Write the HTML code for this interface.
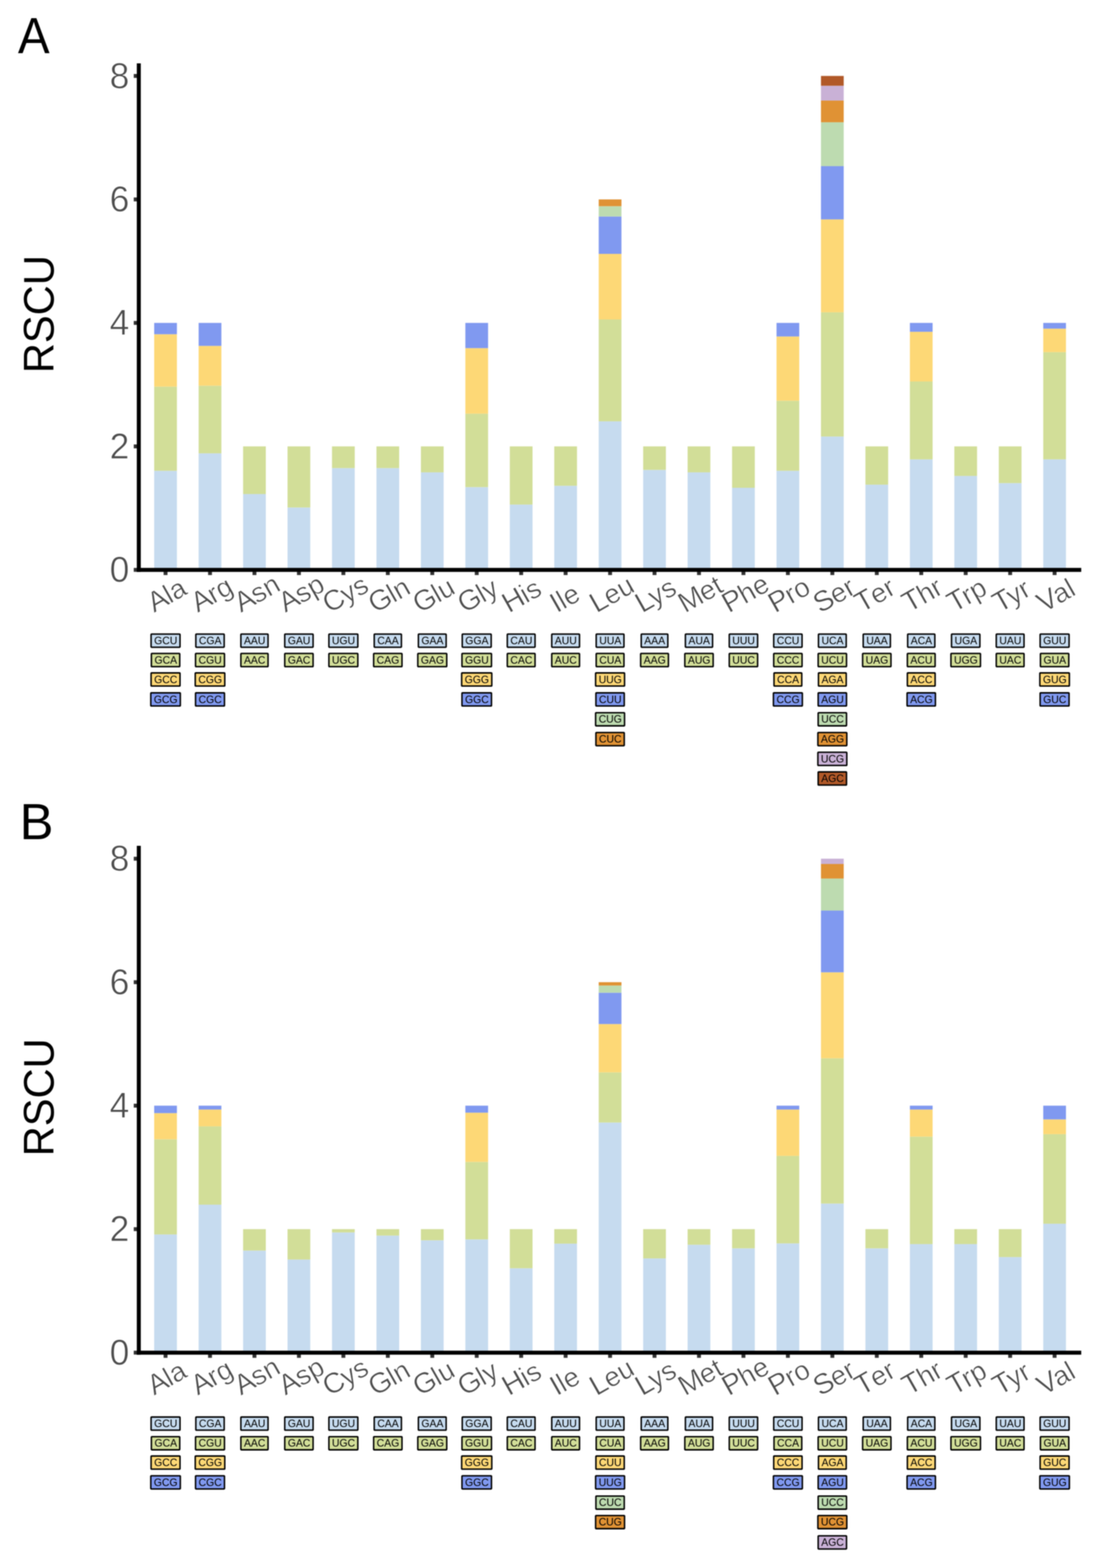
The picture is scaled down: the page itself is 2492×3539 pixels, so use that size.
<!DOCTYPE html>
<html lang="en">
<head>
<meta charset="utf-8">
<title>RSCU</title>
<style>
html,body{margin:0;padding:0;background:#fff;}
body{width:2492px;height:3539px;overflow:hidden;}
svg{display:block;font-family:'Liberation Sans', sans-serif;filter:blur(0.9px);}
text{font-kerning:normal;}
</style>
</head>
<body>
<svg width="2492" height="3539" viewBox="0 0 2492 3539">
<rect width="2492" height="3539" fill="#fff"/>
<g class="panel" id="panelA">
<g class="bars">
<rect x="348.05" y="1062.54" width="51.3" height="223.66" fill="#C6DBEF"/>
<rect x="348.05" y="872.58" width="51.3" height="189.97" fill="#D2DE98"/>
<rect x="348.05" y="754.36" width="51.3" height="118.22" fill="#FDD876"/>
<rect x="348.05" y="728.8" width="51.3" height="25.56" fill="#8099F0"/>
<rect x="448.39" y="1023.14" width="51.3" height="263.06" fill="#C6DBEF"/>
<rect x="448.39" y="870.56" width="51.3" height="152.58" fill="#D2DE98"/>
<rect x="448.39" y="780.63" width="51.3" height="89.93" fill="#FDD876"/>
<rect x="448.39" y="728.8" width="51.3" height="51.83" fill="#8099F0"/>
<rect x="548.73" y="1115.09" width="51.3" height="171.11" fill="#C6DBEF"/>
<rect x="548.73" y="1007.5" width="51.3" height="107.59" fill="#D2DE98"/>
<rect x="649.07" y="1145.4" width="51.3" height="140.8" fill="#C6DBEF"/>
<rect x="649.07" y="1007.5" width="51.3" height="137.9" fill="#D2DE98"/>
<rect x="749.41" y="1056.48" width="51.3" height="229.72" fill="#C6DBEF"/>
<rect x="749.41" y="1007.5" width="51.3" height="48.98" fill="#D2DE98"/>
<rect x="849.75" y="1056.48" width="51.3" height="229.72" fill="#C6DBEF"/>
<rect x="849.75" y="1007.5" width="51.3" height="48.98" fill="#D2DE98"/>
<rect x="950.09" y="1066.08" width="51.3" height="220.12" fill="#C6DBEF"/>
<rect x="950.09" y="1007.5" width="51.3" height="58.58" fill="#D2DE98"/>
<rect x="1050.43" y="1099.43" width="51.3" height="186.77" fill="#C6DBEF"/>
<rect x="1050.43" y="933.71" width="51.3" height="165.71" fill="#D2DE98"/>
<rect x="1050.43" y="785.68" width="51.3" height="148.03" fill="#FDD876"/>
<rect x="1050.43" y="728.8" width="51.3" height="56.88" fill="#8099F0"/>
<rect x="1150.77" y="1138.83" width="51.3" height="147.37" fill="#C6DBEF"/>
<rect x="1150.77" y="1007.5" width="51.3" height="131.33" fill="#D2DE98"/>
<rect x="1251.11" y="1096.39" width="51.3" height="189.81" fill="#C6DBEF"/>
<rect x="1251.11" y="1007.5" width="51.3" height="88.89" fill="#D2DE98"/>
<rect x="1351.45" y="950.89" width="51.3" height="335.31" fill="#C6DBEF"/>
<rect x="1351.45" y="721.01" width="51.3" height="229.88" fill="#D2DE98"/>
<rect x="1351.45" y="572.98" width="51.3" height="148.03" fill="#FDD876"/>
<rect x="1351.45" y="488.61" width="51.3" height="84.37" fill="#8099F0"/>
<rect x="1351.45" y="465.37" width="51.3" height="23.24" fill="#BDDBB0"/>
<rect x="1351.45" y="450.1" width="51.3" height="15.27" fill="#E09234"/>
<rect x="1451.79" y="1060.52" width="51.3" height="225.68" fill="#C6DBEF"/>
<rect x="1451.79" y="1007.5" width="51.3" height="53.02" fill="#D2DE98"/>
<rect x="1552.13" y="1066.08" width="51.3" height="220.12" fill="#C6DBEF"/>
<rect x="1552.13" y="1007.5" width="51.3" height="58.58" fill="#D2DE98"/>
<rect x="1652.47" y="1100.94" width="51.3" height="185.26" fill="#C6DBEF"/>
<rect x="1652.47" y="1007.5" width="51.3" height="93.44" fill="#D2DE98"/>
<rect x="1752.81" y="1062.54" width="51.3" height="223.66" fill="#C6DBEF"/>
<rect x="1752.81" y="904.41" width="51.3" height="158.14" fill="#D2DE98"/>
<rect x="1752.81" y="759.41" width="51.3" height="145" fill="#FDD876"/>
<rect x="1752.81" y="728.8" width="51.3" height="30.61" fill="#8099F0"/>
<rect x="1853.15" y="985.24" width="51.3" height="300.96" fill="#C6DBEF"/>
<rect x="1853.15" y="704.84" width="51.3" height="280.4" fill="#D2DE98"/>
<rect x="1853.15" y="495.17" width="51.3" height="209.67" fill="#FDD876"/>
<rect x="1853.15" y="374.93" width="51.3" height="120.24" fill="#8099F0"/>
<rect x="1853.15" y="275.91" width="51.3" height="99.02" fill="#BDDBB0"/>
<rect x="1853.15" y="226.9" width="51.3" height="49.01" fill="#E09234"/>
<rect x="1853.15" y="193.55" width="51.3" height="33.34" fill="#C9B1D6"/>
<rect x="1853.15" y="171.4" width="51.3" height="22.15" fill="#B15928"/>
<rect x="1953.49" y="1093.87" width="51.3" height="192.33" fill="#C6DBEF"/>
<rect x="1953.49" y="1007.5" width="51.3" height="86.37" fill="#D2DE98"/>
<rect x="2053.83" y="1036.78" width="51.3" height="249.42" fill="#C6DBEF"/>
<rect x="2053.83" y="860.96" width="51.3" height="175.82" fill="#D2DE98"/>
<rect x="2053.83" y="748.8" width="51.3" height="112.16" fill="#FDD876"/>
<rect x="2053.83" y="728.8" width="51.3" height="20" fill="#8099F0"/>
<rect x="2154.17" y="1074.16" width="51.3" height="212.04" fill="#C6DBEF"/>
<rect x="2154.17" y="1007.5" width="51.3" height="66.66" fill="#D2DE98"/>
<rect x="2254.51" y="1090.33" width="51.3" height="195.87" fill="#C6DBEF"/>
<rect x="2254.51" y="1007.5" width="51.3" height="82.83" fill="#D2DE98"/>
<rect x="2354.85" y="1036.78" width="51.3" height="249.42" fill="#C6DBEF"/>
<rect x="2354.85" y="794.77" width="51.3" height="242" fill="#D2DE98"/>
<rect x="2354.85" y="741.72" width="51.3" height="53.05" fill="#FDD876"/>
<rect x="2354.85" y="728.8" width="51.3" height="12.92" fill="#8099F0"/>
</g>
<g class="ticks" stroke="#333333" stroke-width="8.8">
<line x1="301.9" x2="313.3" y1="1286.2" y2="1286.2"/>
<line x1="301.9" x2="313.3" y1="1007.5" y2="1007.5"/>
<line x1="301.9" x2="313.3" y1="728.8" y2="728.8"/>
<line x1="301.9" x2="313.3" y1="450.1" y2="450.1"/>
<line x1="301.9" x2="313.3" y1="171.4" y2="171.4"/>
<line x1="373.7" x2="373.7" y1="1286.2" y2="1297.9"/>
<line x1="474.04" x2="474.04" y1="1286.2" y2="1297.9"/>
<line x1="574.38" x2="574.38" y1="1286.2" y2="1297.9"/>
<line x1="674.72" x2="674.72" y1="1286.2" y2="1297.9"/>
<line x1="775.06" x2="775.06" y1="1286.2" y2="1297.9"/>
<line x1="875.4" x2="875.4" y1="1286.2" y2="1297.9"/>
<line x1="975.74" x2="975.74" y1="1286.2" y2="1297.9"/>
<line x1="1076.08" x2="1076.08" y1="1286.2" y2="1297.9"/>
<line x1="1176.42" x2="1176.42" y1="1286.2" y2="1297.9"/>
<line x1="1276.76" x2="1276.76" y1="1286.2" y2="1297.9"/>
<line x1="1377.1" x2="1377.1" y1="1286.2" y2="1297.9"/>
<line x1="1477.44" x2="1477.44" y1="1286.2" y2="1297.9"/>
<line x1="1577.78" x2="1577.78" y1="1286.2" y2="1297.9"/>
<line x1="1678.12" x2="1678.12" y1="1286.2" y2="1297.9"/>
<line x1="1778.46" x2="1778.46" y1="1286.2" y2="1297.9"/>
<line x1="1878.8" x2="1878.8" y1="1286.2" y2="1297.9"/>
<line x1="1979.14" x2="1979.14" y1="1286.2" y2="1297.9"/>
<line x1="2079.48" x2="2079.48" y1="1286.2" y2="1297.9"/>
<line x1="2179.82" x2="2179.82" y1="1286.2" y2="1297.9"/>
<line x1="2280.16" x2="2280.16" y1="1286.2" y2="1297.9"/>
<line x1="2380.5" x2="2380.5" y1="1286.2" y2="1297.9"/>
</g>
<g class="axes" stroke="#000" stroke-width="9" fill="none">
<line x1="313.3" x2="313.3" y1="143" y2="1290.7"/>
<line x1="308.8" x2="2440.6" y1="1286.2" y2="1286.2"/>
</g>
<g class="ylab" font-size="80" fill="#4D4D4D" text-anchor="end" stroke="#fff" stroke-width="1.1">
<text transform="translate(291.9 1313.4) scale(1 1.023)">0</text>
<text transform="translate(291.9 1034.7) scale(1 1.023)">2</text>
<text transform="translate(291.9 756) scale(1 1.023)">4</text>
<text transform="translate(291.9 477.3) scale(1 1.023)">6</text>
<text transform="translate(291.9 198.6) scale(1 1.023)">8</text>
</g>
<text class="ytitle" font-size="94" fill="#000" text-anchor="middle" transform="translate(120.6 709.1) rotate(-90) scale(1 1.034)">RSCU</text>
<text class="tag" font-size="111" fill="#000" transform="translate(40.6 120.2) scale(0.966 1.033)">A</text>
<g class="xlab" font-size="62.0" fill="#4D4D4D" stroke="#fff" stroke-width="1">
<text transform="translate(347.81 1383.4) rotate(-29.6) scale(1 0.995)"><tspan font-size="64.79">A</tspan><tspan dx="-1.86">la</tspan></text>
<text transform="translate(446.27 1383.4) rotate(-29.6) scale(1 0.995)"><tspan font-size="64.79">A</tspan><tspan dx="-1.86">rg</tspan></text>
<text transform="translate(543.77 1383.4) rotate(-29.6) scale(1 0.995)"><tspan font-size="64.79">A</tspan><tspan dx="-1.86">sn</tspan></text>
<text transform="translate(644.11 1383.4) rotate(-29.6) scale(1 0.995)"><tspan font-size="64.79">A</tspan><tspan dx="-1.86">sp</tspan></text>
<text transform="translate(743.46 1385.1) rotate(-29.6) scale(1 0.995)"><tspan font-size="64.79">C</tspan><tspan dx="-2.01">ys</tspan></text>
<text transform="translate(846.63 1385.1) rotate(-29.6) scale(1 0.995)"><tspan font-size="64.79">G</tspan><tspan dx="-2.17">ln</tspan></text>
<text transform="translate(947.37 1385.1) rotate(-29.6) scale(1 0.995)"><tspan font-size="64.79">G</tspan><tspan dx="-2.17">lu</tspan></text>
<text transform="translate(1048.26 1385.1) rotate(-29.6) scale(1 0.995)"><tspan font-size="64.79">G</tspan><tspan dx="-2.17">ly</tspan></text>
<text transform="translate(1148.75 1384.4) rotate(-29.6) scale(1 0.995)"><tspan font-size="64.79">H</tspan><tspan dx="-2.01">is</tspan></text>
<text transform="translate(1256.69 1384.6) rotate(-29.6) scale(1 0.995)"><tspan font-size="64.79">I</tspan><tspan dx="-0.78">le</tspan></text>
<text transform="translate(1346.22 1384.6) rotate(-29.6) scale(1 0.995)"><tspan font-size="64.79">L</tspan><tspan dx="-1.55">eu</tspan></text>
<text transform="translate(1449.3 1384.6) rotate(-29.6) scale(1 0.995)"><tspan font-size="64.79">L</tspan><tspan dx="-3.85">ys</tspan></text>
<text transform="translate(1546.32 1384.6) rotate(-29.6) scale(1 0.995)"><tspan font-size="64.79">M</tspan><tspan dx="-2.32">et</tspan></text>
<text transform="translate(1644.95 1384.6) rotate(-29.6) scale(1 0.995)"><tspan font-size="64.79">P</tspan><tspan dx="-1.86">he</tspan></text>
<text transform="translate(1749.49 1384.6) rotate(-29.6) scale(1 0.995)"><tspan font-size="64.79">P</tspan><tspan dx="-1.86">ro</tspan></text>
<text transform="translate(1851.03 1385.1) rotate(-29.6) scale(1 0.995)"><tspan font-size="64.79">S</tspan><tspan dx="-1.86">er</tspan></text>
<text style="font-kerning:none" transform="translate(1944.72 1384.1) rotate(-29.6) scale(1 0.995)"><tspan font-size="64.79">T</tspan><tspan dx="-1.7">er</tspan></text>
<text transform="translate(2051.46 1383.5) rotate(-29.6) scale(1 0.995)"><tspan font-size="64.79">T</tspan><tspan dx="-1.7">hr</tspan></text>
<text transform="translate(2153.23 1383.5) rotate(-29.6) scale(1 0.995)"><tspan font-size="64.79">T</tspan><tspan dx="-4.01">rp</tspan></text>
<text transform="translate(2255.84 1383.9) rotate(-29.6) scale(1 0.995)"><tspan font-size="64.79">T</tspan><tspan dx="-5.12">yr</tspan></text>
<text style="font-kerning:none" transform="translate(2355.91 1383.9) rotate(-29.6) scale(1 0.995)"><tspan font-size="64.79">V</tspan><tspan dx="-4.16">al</tspan></text>
</g>
<g class="codons" font-size="23.5" text-anchor="middle" stroke-linejoin="round">
<rect x="341.03" y="1431.15" width="65.33" height="29.7" rx="1.5" fill="#C6DBEF" stroke="#000" stroke-width="3.3"/>
<text transform="translate(374.1 1454) scale(1 1.03)" fill="#000">GCU</text>
<rect x="341.7" y="1474.95" width="64.01" height="29.7" rx="1.5" fill="#D2DE98" stroke="#000" stroke-width="3.3"/>
<text transform="translate(374.1 1497.8) scale(1 1.03)" fill="#000">GCA</text>
<rect x="341.03" y="1518.75" width="65.33" height="29.7" rx="1.5" fill="#FDD876" stroke="#000" stroke-width="3.3"/>
<text transform="translate(374.1 1541.6) scale(1 1.03)" fill="#000">GCC</text>
<rect x="340.37" y="1563.75" width="66.67" height="29.7" rx="1.5" fill="#8099F0" stroke="#000" stroke-width="3.3"/>
<text transform="translate(374.1 1586.6) scale(1 1.03)" fill="#000">GCG</text>
<rect x="442.04" y="1431.15" width="64.01" height="29.7" rx="1.5" fill="#C6DBEF" stroke="#000" stroke-width="3.3"/>
<text transform="translate(474.44 1454) scale(1 1.03)" fill="#000">CGA</text>
<rect x="441.37" y="1474.95" width="65.33" height="29.7" rx="1.5" fill="#D2DE98" stroke="#000" stroke-width="3.3"/>
<text transform="translate(474.44 1497.8) scale(1 1.03)" fill="#000">CGU</text>
<rect x="440.71" y="1518.75" width="66.67" height="29.7" rx="1.5" fill="#FDD876" stroke="#000" stroke-width="3.3"/>
<text transform="translate(474.44 1541.6) scale(1 1.03)" fill="#000">CGG</text>
<rect x="441.37" y="1563.75" width="65.33" height="29.7" rx="1.5" fill="#8099F0" stroke="#000" stroke-width="3.3"/>
<text transform="translate(474.44 1586.6) scale(1 1.03)" fill="#000">CGC</text>
<rect x="543.71" y="1431.15" width="61.35" height="29.7" rx="1.5" fill="#C6DBEF" stroke="#000" stroke-width="3.3"/>
<text transform="translate(574.78 1454) scale(1 1.03)" fill="#000">AAU</text>
<rect x="543.71" y="1474.95" width="61.35" height="29.7" rx="1.5" fill="#D2DE98" stroke="#000" stroke-width="3.3"/>
<text transform="translate(574.78 1497.8) scale(1 1.03)" fill="#000">AAC</text>
<rect x="642.72" y="1431.15" width="64.01" height="29.7" rx="1.5" fill="#C6DBEF" stroke="#000" stroke-width="3.3"/>
<text transform="translate(675.12 1454) scale(1 1.03)" fill="#000">GAU</text>
<rect x="642.72" y="1474.95" width="64.01" height="29.7" rx="1.5" fill="#D2DE98" stroke="#000" stroke-width="3.3"/>
<text transform="translate(675.12 1497.8) scale(1 1.03)" fill="#000">GAC</text>
<rect x="742.39" y="1431.15" width="65.33" height="29.7" rx="1.5" fill="#C6DBEF" stroke="#000" stroke-width="3.3"/>
<text transform="translate(775.46 1454) scale(1 1.03)" fill="#000">UGU</text>
<rect x="742.39" y="1474.95" width="65.33" height="29.7" rx="1.5" fill="#D2DE98" stroke="#000" stroke-width="3.3"/>
<text transform="translate(775.46 1497.8) scale(1 1.03)" fill="#000">UGC</text>
<rect x="844.73" y="1431.15" width="61.35" height="29.7" rx="1.5" fill="#C6DBEF" stroke="#000" stroke-width="3.3"/>
<text transform="translate(875.8 1454) scale(1 1.03)" fill="#000">CAA</text>
<rect x="843.4" y="1474.95" width="64.01" height="29.7" rx="1.5" fill="#D2DE98" stroke="#000" stroke-width="3.3"/>
<text transform="translate(875.8 1497.8) scale(1 1.03)" fill="#000">CAG</text>
<rect x="944.4" y="1431.15" width="62.68" height="29.7" rx="1.5" fill="#C6DBEF" stroke="#000" stroke-width="3.3"/>
<text transform="translate(976.14 1454) scale(1 1.03)" fill="#000">GAA</text>
<rect x="943.07" y="1474.95" width="65.34" height="29.7" rx="1.5" fill="#D2DE98" stroke="#000" stroke-width="3.3"/>
<text transform="translate(976.14 1497.8) scale(1 1.03)" fill="#000">GAG</text>
<rect x="1043.41" y="1431.15" width="65.34" height="29.7" rx="1.5" fill="#C6DBEF" stroke="#000" stroke-width="3.3"/>
<text transform="translate(1076.48 1454) scale(1 1.03)" fill="#000">GGA</text>
<rect x="1042.75" y="1474.95" width="66.67" height="29.7" rx="1.5" fill="#D2DE98" stroke="#000" stroke-width="3.3"/>
<text transform="translate(1076.48 1497.8) scale(1 1.03)" fill="#000">GGU</text>
<rect x="1042.08" y="1518.75" width="68" height="29.7" rx="1.5" fill="#FDD876" stroke="#000" stroke-width="3.3"/>
<text transform="translate(1076.48 1541.6) scale(1 1.03)" fill="#000">GGG</text>
<rect x="1042.75" y="1563.75" width="66.67" height="29.7" rx="1.5" fill="#8099F0" stroke="#000" stroke-width="3.3"/>
<text transform="translate(1076.48 1586.6) scale(1 1.03)" fill="#000">GGC</text>
<rect x="1145.08" y="1431.15" width="62.67" height="29.7" rx="1.5" fill="#C6DBEF" stroke="#000" stroke-width="3.3"/>
<text transform="translate(1176.82 1454) scale(1 1.03)" fill="#000">CAU</text>
<rect x="1145.08" y="1474.95" width="62.67" height="29.7" rx="1.5" fill="#D2DE98" stroke="#000" stroke-width="3.3"/>
<text transform="translate(1176.82 1497.8) scale(1 1.03)" fill="#000">CAC</text>
<rect x="1245.42" y="1431.15" width="62.67" height="29.7" rx="1.5" fill="#C6DBEF" stroke="#000" stroke-width="3.3"/>
<text transform="translate(1277.16 1454) scale(1 1.03)" fill="#000">AUU</text>
<rect x="1245.42" y="1474.95" width="62.67" height="29.7" rx="1.5" fill="#D2DE98" stroke="#000" stroke-width="3.3"/>
<text transform="translate(1277.16 1497.8) scale(1 1.03)" fill="#000">AUC</text>
<rect x="1345.76" y="1431.15" width="62.67" height="29.7" rx="1.5" fill="#C6DBEF" stroke="#000" stroke-width="3.3"/>
<text transform="translate(1377.5 1454) scale(1 1.03)" fill="#000">UUA</text>
<rect x="1345.76" y="1474.95" width="62.67" height="29.7" rx="1.5" fill="#D2DE98" stroke="#000" stroke-width="3.3"/>
<text transform="translate(1377.5 1497.8) scale(1 1.03)" fill="#000">CUA</text>
<rect x="1344.43" y="1518.75" width="65.33" height="29.7" rx="1.5" fill="#FDD876" stroke="#000" stroke-width="3.3"/>
<text transform="translate(1377.5 1541.6) scale(1 1.03)" fill="#000">UUG</text>
<rect x="1345.1" y="1563.75" width="64" height="29.7" rx="1.5" fill="#8099F0" stroke="#000" stroke-width="3.3"/>
<text transform="translate(1377.5 1586.6) scale(1 1.03)" fill="#000">CUU</text>
<rect x="1344.43" y="1608.55" width="65.33" height="29.7" rx="1.5" fill="#BDDBB0" stroke="#000" stroke-width="3.3"/>
<text transform="translate(1377.5 1631.4) scale(1 1.03)" fill="#000">CUG</text>
<rect x="1345.1" y="1653.35" width="64" height="29.7" rx="1.5" fill="#E09234" stroke="#000" stroke-width="3.3"/>
<text transform="translate(1377.5 1676.2) scale(1 1.03)" fill="#000">CUC</text>
<rect x="1447.43" y="1431.15" width="60.02" height="29.7" rx="1.5" fill="#C6DBEF" stroke="#000" stroke-width="3.3"/>
<text transform="translate(1477.84 1454) scale(1 1.03)" fill="#000">AAA</text>
<rect x="1446.1" y="1474.95" width="62.68" height="29.7" rx="1.5" fill="#D2DE98" stroke="#000" stroke-width="3.3"/>
<text transform="translate(1477.84 1497.8) scale(1 1.03)" fill="#000">AAG</text>
<rect x="1547.11" y="1431.15" width="61.35" height="29.7" rx="1.5" fill="#C6DBEF" stroke="#000" stroke-width="3.3"/>
<text transform="translate(1578.18 1454) scale(1 1.03)" fill="#000">AUA</text>
<rect x="1545.78" y="1474.95" width="64.01" height="29.7" rx="1.5" fill="#D2DE98" stroke="#000" stroke-width="3.3"/>
<text transform="translate(1578.18 1497.8) scale(1 1.03)" fill="#000">AUG</text>
<rect x="1646.12" y="1431.15" width="64" height="29.7" rx="1.5" fill="#C6DBEF" stroke="#000" stroke-width="3.3"/>
<text transform="translate(1678.52 1454) scale(1 1.03)" fill="#000">UUU</text>
<rect x="1646.12" y="1474.95" width="64" height="29.7" rx="1.5" fill="#D2DE98" stroke="#000" stroke-width="3.3"/>
<text transform="translate(1678.52 1497.8) scale(1 1.03)" fill="#000">UUC</text>
<rect x="1746.46" y="1431.15" width="64" height="29.7" rx="1.5" fill="#C6DBEF" stroke="#000" stroke-width="3.3"/>
<text transform="translate(1778.86 1454) scale(1 1.03)" fill="#000">CCU</text>
<rect x="1746.46" y="1474.95" width="64" height="29.7" rx="1.5" fill="#D2DE98" stroke="#000" stroke-width="3.3"/>
<text transform="translate(1778.86 1497.8) scale(1 1.03)" fill="#000">CCC</text>
<rect x="1747.12" y="1518.75" width="62.67" height="29.7" rx="1.5" fill="#FDD876" stroke="#000" stroke-width="3.3"/>
<text transform="translate(1778.86 1541.6) scale(1 1.03)" fill="#000">CCA</text>
<rect x="1745.79" y="1563.75" width="65.33" height="29.7" rx="1.5" fill="#8099F0" stroke="#000" stroke-width="3.3"/>
<text transform="translate(1778.86 1586.6) scale(1 1.03)" fill="#000">CCG</text>
<rect x="1847.46" y="1431.15" width="62.67" height="29.7" rx="1.5" fill="#C6DBEF" stroke="#000" stroke-width="3.3"/>
<text transform="translate(1879.2 1454) scale(1 1.03)" fill="#000">UCA</text>
<rect x="1846.8" y="1474.95" width="64" height="29.7" rx="1.5" fill="#D2DE98" stroke="#000" stroke-width="3.3"/>
<text transform="translate(1879.2 1497.8) scale(1 1.03)" fill="#000">UCU</text>
<rect x="1847.46" y="1518.75" width="62.68" height="29.7" rx="1.5" fill="#FDD876" stroke="#000" stroke-width="3.3"/>
<text transform="translate(1879.2 1541.6) scale(1 1.03)" fill="#000">AGA</text>
<rect x="1846.8" y="1563.75" width="64.01" height="29.7" rx="1.5" fill="#8099F0" stroke="#000" stroke-width="3.3"/>
<text transform="translate(1879.2 1586.6) scale(1 1.03)" fill="#000">AGU</text>
<rect x="1846.8" y="1608.55" width="64" height="29.7" rx="1.5" fill="#BDDBB0" stroke="#000" stroke-width="3.3"/>
<text transform="translate(1879.2 1631.4) scale(1 1.03)" fill="#000">UCC</text>
<rect x="1846.13" y="1653.35" width="65.34" height="29.7" rx="1.5" fill="#E09234" stroke="#000" stroke-width="3.3"/>
<text transform="translate(1879.2 1676.2) scale(1 1.03)" fill="#000">AGG</text>
<rect x="1846.13" y="1697.95" width="65.33" height="29.7" rx="1.5" fill="#C9B1D6" stroke="#000" stroke-width="3.3"/>
<text transform="translate(1879.2 1720.8) scale(1 1.03)" fill="#000">UCG</text>
<rect x="1846.8" y="1742.25" width="64.01" height="29.7" rx="1.5" fill="#B15928" stroke="#000" stroke-width="3.3"/>
<text transform="translate(1879.2 1765.1) scale(1 1.03)" fill="#000">AGC</text>
<rect x="1948.47" y="1431.15" width="61.35" height="29.7" rx="1.5" fill="#C6DBEF" stroke="#000" stroke-width="3.3"/>
<text transform="translate(1979.54 1454) scale(1 1.03)" fill="#000">UAA</text>
<rect x="1947.14" y="1474.95" width="64.01" height="29.7" rx="1.5" fill="#D2DE98" stroke="#000" stroke-width="3.3"/>
<text transform="translate(1979.54 1497.8) scale(1 1.03)" fill="#000">UAG</text>
<rect x="2048.81" y="1431.15" width="61.35" height="29.7" rx="1.5" fill="#C6DBEF" stroke="#000" stroke-width="3.3"/>
<text transform="translate(2079.88 1454) scale(1 1.03)" fill="#000">ACA</text>
<rect x="2048.14" y="1474.95" width="62.67" height="29.7" rx="1.5" fill="#D2DE98" stroke="#000" stroke-width="3.3"/>
<text transform="translate(2079.88 1497.8) scale(1 1.03)" fill="#000">ACU</text>
<rect x="2048.14" y="1518.75" width="62.67" height="29.7" rx="1.5" fill="#FDD876" stroke="#000" stroke-width="3.3"/>
<text transform="translate(2079.88 1541.6) scale(1 1.03)" fill="#000">ACC</text>
<rect x="2047.48" y="1563.75" width="64.01" height="29.7" rx="1.5" fill="#8099F0" stroke="#000" stroke-width="3.3"/>
<text transform="translate(2079.88 1586.6) scale(1 1.03)" fill="#000">ACG</text>
<rect x="2147.82" y="1431.15" width="64.01" height="29.7" rx="1.5" fill="#C6DBEF" stroke="#000" stroke-width="3.3"/>
<text transform="translate(2180.22 1454) scale(1 1.03)" fill="#000">UGA</text>
<rect x="2146.49" y="1474.95" width="66.67" height="29.7" rx="1.5" fill="#D2DE98" stroke="#000" stroke-width="3.3"/>
<text transform="translate(2180.22 1497.8) scale(1 1.03)" fill="#000">UGG</text>
<rect x="2248.82" y="1431.15" width="62.67" height="29.7" rx="1.5" fill="#C6DBEF" stroke="#000" stroke-width="3.3"/>
<text transform="translate(2280.56 1454) scale(1 1.03)" fill="#000">UAU</text>
<rect x="2248.82" y="1474.95" width="62.67" height="29.7" rx="1.5" fill="#D2DE98" stroke="#000" stroke-width="3.3"/>
<text transform="translate(2280.56 1497.8) scale(1 1.03)" fill="#000">UAC</text>
<rect x="2347.83" y="1431.15" width="65.33" height="29.7" rx="1.5" fill="#C6DBEF" stroke="#000" stroke-width="3.3"/>
<text transform="translate(2380.9 1454) scale(1 1.03)" fill="#000">GUU</text>
<rect x="2348.5" y="1474.95" width="64.01" height="29.7" rx="1.5" fill="#D2DE98" stroke="#000" stroke-width="3.3"/>
<text transform="translate(2380.9 1497.8) scale(1 1.03)" fill="#000">GUA</text>
<rect x="2347.17" y="1518.75" width="66.67" height="29.7" rx="1.5" fill="#FDD876" stroke="#000" stroke-width="3.3"/>
<text transform="translate(2380.9 1541.6) scale(1 1.03)" fill="#000">GUG</text>
<rect x="2347.83" y="1563.75" width="65.33" height="29.7" rx="1.5" fill="#8099F0" stroke="#000" stroke-width="3.3"/>
<text transform="translate(2380.9 1586.6) scale(1 1.03)" fill="#000">GUC</text>
</g>
</g>
<g class="panel" id="panelB">
<g class="bars">
<rect x="348.05" y="2786.17" width="51.3" height="266.73" fill="#C6DBEF"/>
<rect x="348.05" y="2571.45" width="51.3" height="214.72" fill="#D2DE98"/>
<rect x="348.05" y="2512.33" width="51.3" height="59.11" fill="#FDD876"/>
<rect x="348.05" y="2495.5" width="51.3" height="16.83" fill="#8099F0"/>
<rect x="448.39" y="2718.97" width="51.3" height="333.93" fill="#C6DBEF"/>
<rect x="448.39" y="2542.14" width="51.3" height="176.83" fill="#D2DE98"/>
<rect x="448.39" y="2504.25" width="51.3" height="37.89" fill="#FDD876"/>
<rect x="448.39" y="2495.5" width="51.3" height="8.75" fill="#8099F0"/>
<rect x="548.73" y="2822.54" width="51.3" height="230.36" fill="#C6DBEF"/>
<rect x="548.73" y="2774.2" width="51.3" height="48.34" fill="#D2DE98"/>
<rect x="649.07" y="2842.75" width="51.3" height="210.15" fill="#C6DBEF"/>
<rect x="649.07" y="2774.2" width="51.3" height="68.55" fill="#D2DE98"/>
<rect x="749.41" y="2781.62" width="51.3" height="271.28" fill="#C6DBEF"/>
<rect x="749.41" y="2774.2" width="51.3" height="7.42" fill="#D2DE98"/>
<rect x="849.75" y="2788.69" width="51.3" height="264.21" fill="#C6DBEF"/>
<rect x="849.75" y="2774.2" width="51.3" height="14.49" fill="#D2DE98"/>
<rect x="950.09" y="2799.3" width="51.3" height="253.6" fill="#C6DBEF"/>
<rect x="950.09" y="2774.2" width="51.3" height="25.1" fill="#D2DE98"/>
<rect x="1050.43" y="2797.28" width="51.3" height="255.62" fill="#C6DBEF"/>
<rect x="1050.43" y="2622.47" width="51.3" height="174.81" fill="#D2DE98"/>
<rect x="1050.43" y="2511.32" width="51.3" height="111.15" fill="#FDD876"/>
<rect x="1050.43" y="2495.5" width="51.3" height="15.82" fill="#8099F0"/>
<rect x="1150.77" y="2862.46" width="51.3" height="190.44" fill="#C6DBEF"/>
<rect x="1150.77" y="2774.2" width="51.3" height="88.26" fill="#D2DE98"/>
<rect x="1251.11" y="2806.88" width="51.3" height="246.02" fill="#C6DBEF"/>
<rect x="1251.11" y="2774.2" width="51.3" height="32.68" fill="#D2DE98"/>
<rect x="1351.45" y="2533.55" width="51.3" height="519.35" fill="#C6DBEF"/>
<rect x="1351.45" y="2420.38" width="51.3" height="113.17" fill="#D2DE98"/>
<rect x="1351.45" y="2311.25" width="51.3" height="109.13" fill="#FDD876"/>
<rect x="1351.45" y="2240.52" width="51.3" height="70.73" fill="#8099F0"/>
<rect x="1351.45" y="2224.36" width="51.3" height="16.17" fill="#BDDBB0"/>
<rect x="1351.45" y="2216.8" width="51.3" height="7.56" fill="#E09234"/>
<rect x="1451.79" y="2840.23" width="51.3" height="212.67" fill="#C6DBEF"/>
<rect x="1451.79" y="2774.2" width="51.3" height="66.03" fill="#D2DE98"/>
<rect x="1552.13" y="2809.41" width="51.3" height="243.49" fill="#C6DBEF"/>
<rect x="1552.13" y="2774.2" width="51.3" height="35.21" fill="#D2DE98"/>
<rect x="1652.47" y="2817.49" width="51.3" height="235.41" fill="#C6DBEF"/>
<rect x="1652.47" y="2774.2" width="51.3" height="43.29" fill="#D2DE98"/>
<rect x="1752.81" y="2806.38" width="51.3" height="246.52" fill="#C6DBEF"/>
<rect x="1752.81" y="2608.83" width="51.3" height="197.54" fill="#D2DE98"/>
<rect x="1752.81" y="2504.25" width="51.3" height="104.58" fill="#FDD876"/>
<rect x="1752.81" y="2495.5" width="51.3" height="8.75" fill="#8099F0"/>
<rect x="1853.15" y="2716.45" width="51.3" height="336.45" fill="#C6DBEF"/>
<rect x="1853.15" y="2388.55" width="51.3" height="327.89" fill="#D2DE98"/>
<rect x="1853.15" y="2194.55" width="51.3" height="194.01" fill="#FDD876"/>
<rect x="1853.15" y="2055.1" width="51.3" height="139.44" fill="#8099F0"/>
<rect x="1853.15" y="1982.86" width="51.3" height="72.25" fill="#BDDBB0"/>
<rect x="1853.15" y="1950.02" width="51.3" height="32.84" fill="#E09234"/>
<rect x="1853.15" y="1938.1" width="51.3" height="11.92" fill="#C9B1D6"/>
<rect x="1953.49" y="2817.49" width="51.3" height="235.41" fill="#C6DBEF"/>
<rect x="1953.49" y="2774.2" width="51.3" height="43.29" fill="#D2DE98"/>
<rect x="2053.83" y="2807.89" width="51.3" height="245.01" fill="#C6DBEF"/>
<rect x="2053.83" y="2565.38" width="51.3" height="242.51" fill="#D2DE98"/>
<rect x="2053.83" y="2504.25" width="51.3" height="61.13" fill="#FDD876"/>
<rect x="2053.83" y="2495.5" width="51.3" height="8.75" fill="#8099F0"/>
<rect x="2154.17" y="2807.89" width="51.3" height="245.01" fill="#C6DBEF"/>
<rect x="2154.17" y="2774.2" width="51.3" height="33.69" fill="#D2DE98"/>
<rect x="2254.51" y="2837.2" width="51.3" height="215.7" fill="#C6DBEF"/>
<rect x="2254.51" y="2774.2" width="51.3" height="63" fill="#D2DE98"/>
<rect x="2354.85" y="2761.92" width="51.3" height="290.98" fill="#C6DBEF"/>
<rect x="2354.85" y="2559.83" width="51.3" height="202.09" fill="#D2DE98"/>
<rect x="2354.85" y="2526.48" width="51.3" height="33.34" fill="#FDD876"/>
<rect x="2354.85" y="2495.5" width="51.3" height="30.98" fill="#8099F0"/>
</g>
<g class="ticks" stroke="#333333" stroke-width="8.8">
<line x1="301.9" x2="313.3" y1="3052.9" y2="3052.9"/>
<line x1="301.9" x2="313.3" y1="2774.2" y2="2774.2"/>
<line x1="301.9" x2="313.3" y1="2495.5" y2="2495.5"/>
<line x1="301.9" x2="313.3" y1="2216.8" y2="2216.8"/>
<line x1="301.9" x2="313.3" y1="1938.1" y2="1938.1"/>
<line x1="373.7" x2="373.7" y1="3052.9" y2="3064.6"/>
<line x1="474.04" x2="474.04" y1="3052.9" y2="3064.6"/>
<line x1="574.38" x2="574.38" y1="3052.9" y2="3064.6"/>
<line x1="674.72" x2="674.72" y1="3052.9" y2="3064.6"/>
<line x1="775.06" x2="775.06" y1="3052.9" y2="3064.6"/>
<line x1="875.4" x2="875.4" y1="3052.9" y2="3064.6"/>
<line x1="975.74" x2="975.74" y1="3052.9" y2="3064.6"/>
<line x1="1076.08" x2="1076.08" y1="3052.9" y2="3064.6"/>
<line x1="1176.42" x2="1176.42" y1="3052.9" y2="3064.6"/>
<line x1="1276.76" x2="1276.76" y1="3052.9" y2="3064.6"/>
<line x1="1377.1" x2="1377.1" y1="3052.9" y2="3064.6"/>
<line x1="1477.44" x2="1477.44" y1="3052.9" y2="3064.6"/>
<line x1="1577.78" x2="1577.78" y1="3052.9" y2="3064.6"/>
<line x1="1678.12" x2="1678.12" y1="3052.9" y2="3064.6"/>
<line x1="1778.46" x2="1778.46" y1="3052.9" y2="3064.6"/>
<line x1="1878.8" x2="1878.8" y1="3052.9" y2="3064.6"/>
<line x1="1979.14" x2="1979.14" y1="3052.9" y2="3064.6"/>
<line x1="2079.48" x2="2079.48" y1="3052.9" y2="3064.6"/>
<line x1="2179.82" x2="2179.82" y1="3052.9" y2="3064.6"/>
<line x1="2280.16" x2="2280.16" y1="3052.9" y2="3064.6"/>
<line x1="2380.5" x2="2380.5" y1="3052.9" y2="3064.6"/>
</g>
<g class="axes" stroke="#000" stroke-width="9" fill="none">
<line x1="313.3" x2="313.3" y1="1909.1" y2="3057.4"/>
<line x1="308.8" x2="2440.6" y1="3052.9" y2="3052.9"/>
</g>
<g class="ylab" font-size="80" fill="#4D4D4D" text-anchor="end" stroke="#fff" stroke-width="1.1">
<text transform="translate(291.9 3080.1) scale(1 1.023)">0</text>
<text transform="translate(291.9 2801.4) scale(1 1.023)">2</text>
<text transform="translate(291.9 2522.7) scale(1 1.023)">4</text>
<text transform="translate(291.9 2244) scale(1 1.023)">6</text>
<text transform="translate(291.9 1965.3) scale(1 1.023)">8</text>
</g>
<text class="ytitle" font-size="94" fill="#000" text-anchor="middle" transform="translate(120.6 2476.7) rotate(-90) scale(1 1.034)">RSCU</text>
<text class="tag" font-size="111" fill="#000" transform="translate(44.3 1894.3) scale(1.033 1.033)">B</text>
<g class="xlab" font-size="62.0" fill="#4D4D4D" stroke="#fff" stroke-width="1">
<text transform="translate(347.81 3150.3) rotate(-29.6) scale(1 0.995)"><tspan font-size="64.79">A</tspan><tspan dx="-1.86">la</tspan></text>
<text transform="translate(446.27 3150.3) rotate(-29.6) scale(1 0.995)"><tspan font-size="64.79">A</tspan><tspan dx="-1.86">rg</tspan></text>
<text transform="translate(543.77 3150.3) rotate(-29.6) scale(1 0.995)"><tspan font-size="64.79">A</tspan><tspan dx="-1.86">sn</tspan></text>
<text transform="translate(644.11 3150.3) rotate(-29.6) scale(1 0.995)"><tspan font-size="64.79">A</tspan><tspan dx="-1.86">sp</tspan></text>
<text transform="translate(743.46 3152) rotate(-29.6) scale(1 0.995)"><tspan font-size="64.79">C</tspan><tspan dx="-2.01">ys</tspan></text>
<text transform="translate(846.63 3152) rotate(-29.6) scale(1 0.995)"><tspan font-size="64.79">G</tspan><tspan dx="-2.17">ln</tspan></text>
<text transform="translate(947.37 3152) rotate(-29.6) scale(1 0.995)"><tspan font-size="64.79">G</tspan><tspan dx="-2.17">lu</tspan></text>
<text transform="translate(1048.26 3152) rotate(-29.6) scale(1 0.995)"><tspan font-size="64.79">G</tspan><tspan dx="-2.17">ly</tspan></text>
<text transform="translate(1148.75 3151.3) rotate(-29.6) scale(1 0.995)"><tspan font-size="64.79">H</tspan><tspan dx="-2.01">is</tspan></text>
<text transform="translate(1256.69 3151.5) rotate(-29.6) scale(1 0.995)"><tspan font-size="64.79">I</tspan><tspan dx="-0.78">le</tspan></text>
<text transform="translate(1346.22 3151.5) rotate(-29.6) scale(1 0.995)"><tspan font-size="64.79">L</tspan><tspan dx="-1.55">eu</tspan></text>
<text transform="translate(1449.3 3151.5) rotate(-29.6) scale(1 0.995)"><tspan font-size="64.79">L</tspan><tspan dx="-3.85">ys</tspan></text>
<text transform="translate(1546.32 3151.5) rotate(-29.6) scale(1 0.995)"><tspan font-size="64.79">M</tspan><tspan dx="-2.32">et</tspan></text>
<text transform="translate(1644.95 3151.5) rotate(-29.6) scale(1 0.995)"><tspan font-size="64.79">P</tspan><tspan dx="-1.86">he</tspan></text>
<text transform="translate(1749.49 3151.5) rotate(-29.6) scale(1 0.995)"><tspan font-size="64.79">P</tspan><tspan dx="-1.86">ro</tspan></text>
<text transform="translate(1851.03 3152) rotate(-29.6) scale(1 0.995)"><tspan font-size="64.79">S</tspan><tspan dx="-1.86">er</tspan></text>
<text style="font-kerning:none" transform="translate(1944.72 3151) rotate(-29.6) scale(1 0.995)"><tspan font-size="64.79">T</tspan><tspan dx="-1.7">er</tspan></text>
<text transform="translate(2051.46 3150.4) rotate(-29.6) scale(1 0.995)"><tspan font-size="64.79">T</tspan><tspan dx="-1.7">hr</tspan></text>
<text transform="translate(2153.23 3150.4) rotate(-29.6) scale(1 0.995)"><tspan font-size="64.79">T</tspan><tspan dx="-4.01">rp</tspan></text>
<text transform="translate(2255.84 3150.8) rotate(-29.6) scale(1 0.995)"><tspan font-size="64.79">T</tspan><tspan dx="-5.12">yr</tspan></text>
<text style="font-kerning:none" transform="translate(2355.91 3150.8) rotate(-29.6) scale(1 0.995)"><tspan font-size="64.79">V</tspan><tspan dx="-4.16">al</tspan></text>
</g>
<g class="codons" font-size="23.5" text-anchor="middle" stroke-linejoin="round">
<rect x="341.03" y="3198.25" width="65.33" height="29.7" rx="1.5" fill="#C6DBEF" stroke="#000" stroke-width="3.3"/>
<text transform="translate(374.1 3221.1) scale(1 1.03)" fill="#000">GCU</text>
<rect x="341.7" y="3242.55" width="64.01" height="29.7" rx="1.5" fill="#D2DE98" stroke="#000" stroke-width="3.3"/>
<text transform="translate(374.1 3265.4) scale(1 1.03)" fill="#000">GCA</text>
<rect x="341.03" y="3286.25" width="65.33" height="29.7" rx="1.5" fill="#FDD876" stroke="#000" stroke-width="3.3"/>
<text transform="translate(374.1 3309.1) scale(1 1.03)" fill="#000">GCC</text>
<rect x="340.37" y="3330.85" width="66.67" height="29.7" rx="1.5" fill="#8099F0" stroke="#000" stroke-width="3.3"/>
<text transform="translate(374.1 3353.7) scale(1 1.03)" fill="#000">GCG</text>
<rect x="442.04" y="3198.25" width="64.01" height="29.7" rx="1.5" fill="#C6DBEF" stroke="#000" stroke-width="3.3"/>
<text transform="translate(474.44 3221.1) scale(1 1.03)" fill="#000">CGA</text>
<rect x="441.37" y="3242.55" width="65.33" height="29.7" rx="1.5" fill="#D2DE98" stroke="#000" stroke-width="3.3"/>
<text transform="translate(474.44 3265.4) scale(1 1.03)" fill="#000">CGU</text>
<rect x="440.71" y="3286.25" width="66.67" height="29.7" rx="1.5" fill="#FDD876" stroke="#000" stroke-width="3.3"/>
<text transform="translate(474.44 3309.1) scale(1 1.03)" fill="#000">CGG</text>
<rect x="441.37" y="3330.85" width="65.33" height="29.7" rx="1.5" fill="#8099F0" stroke="#000" stroke-width="3.3"/>
<text transform="translate(474.44 3353.7) scale(1 1.03)" fill="#000">CGC</text>
<rect x="543.71" y="3198.25" width="61.35" height="29.7" rx="1.5" fill="#C6DBEF" stroke="#000" stroke-width="3.3"/>
<text transform="translate(574.78 3221.1) scale(1 1.03)" fill="#000">AAU</text>
<rect x="543.71" y="3242.55" width="61.35" height="29.7" rx="1.5" fill="#D2DE98" stroke="#000" stroke-width="3.3"/>
<text transform="translate(574.78 3265.4) scale(1 1.03)" fill="#000">AAC</text>
<rect x="642.72" y="3198.25" width="64.01" height="29.7" rx="1.5" fill="#C6DBEF" stroke="#000" stroke-width="3.3"/>
<text transform="translate(675.12 3221.1) scale(1 1.03)" fill="#000">GAU</text>
<rect x="642.72" y="3242.55" width="64.01" height="29.7" rx="1.5" fill="#D2DE98" stroke="#000" stroke-width="3.3"/>
<text transform="translate(675.12 3265.4) scale(1 1.03)" fill="#000">GAC</text>
<rect x="742.39" y="3198.25" width="65.33" height="29.7" rx="1.5" fill="#C6DBEF" stroke="#000" stroke-width="3.3"/>
<text transform="translate(775.46 3221.1) scale(1 1.03)" fill="#000">UGU</text>
<rect x="742.39" y="3242.55" width="65.33" height="29.7" rx="1.5" fill="#D2DE98" stroke="#000" stroke-width="3.3"/>
<text transform="translate(775.46 3265.4) scale(1 1.03)" fill="#000">UGC</text>
<rect x="844.73" y="3198.25" width="61.35" height="29.7" rx="1.5" fill="#C6DBEF" stroke="#000" stroke-width="3.3"/>
<text transform="translate(875.8 3221.1) scale(1 1.03)" fill="#000">CAA</text>
<rect x="843.4" y="3242.55" width="64.01" height="29.7" rx="1.5" fill="#D2DE98" stroke="#000" stroke-width="3.3"/>
<text transform="translate(875.8 3265.4) scale(1 1.03)" fill="#000">CAG</text>
<rect x="944.4" y="3198.25" width="62.68" height="29.7" rx="1.5" fill="#C6DBEF" stroke="#000" stroke-width="3.3"/>
<text transform="translate(976.14 3221.1) scale(1 1.03)" fill="#000">GAA</text>
<rect x="943.07" y="3242.55" width="65.34" height="29.7" rx="1.5" fill="#D2DE98" stroke="#000" stroke-width="3.3"/>
<text transform="translate(976.14 3265.4) scale(1 1.03)" fill="#000">GAG</text>
<rect x="1043.41" y="3198.25" width="65.34" height="29.7" rx="1.5" fill="#C6DBEF" stroke="#000" stroke-width="3.3"/>
<text transform="translate(1076.48 3221.1) scale(1 1.03)" fill="#000">GGA</text>
<rect x="1042.75" y="3242.55" width="66.67" height="29.7" rx="1.5" fill="#D2DE98" stroke="#000" stroke-width="3.3"/>
<text transform="translate(1076.48 3265.4) scale(1 1.03)" fill="#000">GGU</text>
<rect x="1042.08" y="3286.25" width="68" height="29.7" rx="1.5" fill="#FDD876" stroke="#000" stroke-width="3.3"/>
<text transform="translate(1076.48 3309.1) scale(1 1.03)" fill="#000">GGG</text>
<rect x="1042.75" y="3330.85" width="66.67" height="29.7" rx="1.5" fill="#8099F0" stroke="#000" stroke-width="3.3"/>
<text transform="translate(1076.48 3353.7) scale(1 1.03)" fill="#000">GGC</text>
<rect x="1145.08" y="3198.25" width="62.67" height="29.7" rx="1.5" fill="#C6DBEF" stroke="#000" stroke-width="3.3"/>
<text transform="translate(1176.82 3221.1) scale(1 1.03)" fill="#000">CAU</text>
<rect x="1145.08" y="3242.55" width="62.67" height="29.7" rx="1.5" fill="#D2DE98" stroke="#000" stroke-width="3.3"/>
<text transform="translate(1176.82 3265.4) scale(1 1.03)" fill="#000">CAC</text>
<rect x="1245.42" y="3198.25" width="62.67" height="29.7" rx="1.5" fill="#C6DBEF" stroke="#000" stroke-width="3.3"/>
<text transform="translate(1277.16 3221.1) scale(1 1.03)" fill="#000">AUU</text>
<rect x="1245.42" y="3242.55" width="62.67" height="29.7" rx="1.5" fill="#D2DE98" stroke="#000" stroke-width="3.3"/>
<text transform="translate(1277.16 3265.4) scale(1 1.03)" fill="#000">AUC</text>
<rect x="1345.76" y="3198.25" width="62.67" height="29.7" rx="1.5" fill="#C6DBEF" stroke="#000" stroke-width="3.3"/>
<text transform="translate(1377.5 3221.1) scale(1 1.03)" fill="#000">UUA</text>
<rect x="1345.76" y="3242.55" width="62.67" height="29.7" rx="1.5" fill="#D2DE98" stroke="#000" stroke-width="3.3"/>
<text transform="translate(1377.5 3265.4) scale(1 1.03)" fill="#000">CUA</text>
<rect x="1345.1" y="3286.25" width="64" height="29.7" rx="1.5" fill="#FDD876" stroke="#000" stroke-width="3.3"/>
<text transform="translate(1377.5 3309.1) scale(1 1.03)" fill="#000">CUU</text>
<rect x="1344.43" y="3330.85" width="65.33" height="29.7" rx="1.5" fill="#8099F0" stroke="#000" stroke-width="3.3"/>
<text transform="translate(1377.5 3353.7) scale(1 1.03)" fill="#000">UUG</text>
<rect x="1345.1" y="3376.55" width="64" height="29.7" rx="1.5" fill="#BDDBB0" stroke="#000" stroke-width="3.3"/>
<text transform="translate(1377.5 3399.4) scale(1 1.03)" fill="#000">CUC</text>
<rect x="1344.43" y="3420.55" width="65.33" height="29.7" rx="1.5" fill="#E09234" stroke="#000" stroke-width="3.3"/>
<text transform="translate(1377.5 3443.4) scale(1 1.03)" fill="#000">CUG</text>
<rect x="1447.43" y="3198.25" width="60.02" height="29.7" rx="1.5" fill="#C6DBEF" stroke="#000" stroke-width="3.3"/>
<text transform="translate(1477.84 3221.1) scale(1 1.03)" fill="#000">AAA</text>
<rect x="1446.1" y="3242.55" width="62.68" height="29.7" rx="1.5" fill="#D2DE98" stroke="#000" stroke-width="3.3"/>
<text transform="translate(1477.84 3265.4) scale(1 1.03)" fill="#000">AAG</text>
<rect x="1547.11" y="3198.25" width="61.35" height="29.7" rx="1.5" fill="#C6DBEF" stroke="#000" stroke-width="3.3"/>
<text transform="translate(1578.18 3221.1) scale(1 1.03)" fill="#000">AUA</text>
<rect x="1545.78" y="3242.55" width="64.01" height="29.7" rx="1.5" fill="#D2DE98" stroke="#000" stroke-width="3.3"/>
<text transform="translate(1578.18 3265.4) scale(1 1.03)" fill="#000">AUG</text>
<rect x="1646.12" y="3198.25" width="64" height="29.7" rx="1.5" fill="#C6DBEF" stroke="#000" stroke-width="3.3"/>
<text transform="translate(1678.52 3221.1) scale(1 1.03)" fill="#000">UUU</text>
<rect x="1646.12" y="3242.55" width="64" height="29.7" rx="1.5" fill="#D2DE98" stroke="#000" stroke-width="3.3"/>
<text transform="translate(1678.52 3265.4) scale(1 1.03)" fill="#000">UUC</text>
<rect x="1746.46" y="3198.25" width="64" height="29.7" rx="1.5" fill="#C6DBEF" stroke="#000" stroke-width="3.3"/>
<text transform="translate(1778.86 3221.1) scale(1 1.03)" fill="#000">CCU</text>
<rect x="1747.12" y="3242.55" width="62.67" height="29.7" rx="1.5" fill="#D2DE98" stroke="#000" stroke-width="3.3"/>
<text transform="translate(1778.86 3265.4) scale(1 1.03)" fill="#000">CCA</text>
<rect x="1746.46" y="3286.25" width="64" height="29.7" rx="1.5" fill="#FDD876" stroke="#000" stroke-width="3.3"/>
<text transform="translate(1778.86 3309.1) scale(1 1.03)" fill="#000">CCC</text>
<rect x="1745.79" y="3330.85" width="65.33" height="29.7" rx="1.5" fill="#8099F0" stroke="#000" stroke-width="3.3"/>
<text transform="translate(1778.86 3353.7) scale(1 1.03)" fill="#000">CCG</text>
<rect x="1847.46" y="3198.25" width="62.67" height="29.7" rx="1.5" fill="#C6DBEF" stroke="#000" stroke-width="3.3"/>
<text transform="translate(1879.2 3221.1) scale(1 1.03)" fill="#000">UCA</text>
<rect x="1846.8" y="3242.55" width="64" height="29.7" rx="1.5" fill="#D2DE98" stroke="#000" stroke-width="3.3"/>
<text transform="translate(1879.2 3265.4) scale(1 1.03)" fill="#000">UCU</text>
<rect x="1847.46" y="3286.25" width="62.68" height="29.7" rx="1.5" fill="#FDD876" stroke="#000" stroke-width="3.3"/>
<text transform="translate(1879.2 3309.1) scale(1 1.03)" fill="#000">AGA</text>
<rect x="1846.8" y="3330.85" width="64.01" height="29.7" rx="1.5" fill="#8099F0" stroke="#000" stroke-width="3.3"/>
<text transform="translate(1879.2 3353.7) scale(1 1.03)" fill="#000">AGU</text>
<rect x="1846.8" y="3376.55" width="64" height="29.7" rx="1.5" fill="#BDDBB0" stroke="#000" stroke-width="3.3"/>
<text transform="translate(1879.2 3399.4) scale(1 1.03)" fill="#000">UCC</text>
<rect x="1846.13" y="3420.55" width="65.33" height="29.7" rx="1.5" fill="#E09234" stroke="#000" stroke-width="3.3"/>
<text transform="translate(1879.2 3443.4) scale(1 1.03)" fill="#000">UCG</text>
<rect x="1846.8" y="3466.35" width="64.01" height="29.7" rx="1.5" fill="#C9B1D6" stroke="#000" stroke-width="3.3"/>
<text transform="translate(1879.2 3489.2) scale(1 1.03)" fill="#000">AGC</text>
<rect x="1948.47" y="3198.25" width="61.35" height="29.7" rx="1.5" fill="#C6DBEF" stroke="#000" stroke-width="3.3"/>
<text transform="translate(1979.54 3221.1) scale(1 1.03)" fill="#000">UAA</text>
<rect x="1947.14" y="3242.55" width="64.01" height="29.7" rx="1.5" fill="#D2DE98" stroke="#000" stroke-width="3.3"/>
<text transform="translate(1979.54 3265.4) scale(1 1.03)" fill="#000">UAG</text>
<rect x="2048.81" y="3198.25" width="61.35" height="29.7" rx="1.5" fill="#C6DBEF" stroke="#000" stroke-width="3.3"/>
<text transform="translate(2079.88 3221.1) scale(1 1.03)" fill="#000">ACA</text>
<rect x="2048.14" y="3242.55" width="62.67" height="29.7" rx="1.5" fill="#D2DE98" stroke="#000" stroke-width="3.3"/>
<text transform="translate(2079.88 3265.4) scale(1 1.03)" fill="#000">ACU</text>
<rect x="2048.14" y="3286.25" width="62.67" height="29.7" rx="1.5" fill="#FDD876" stroke="#000" stroke-width="3.3"/>
<text transform="translate(2079.88 3309.1) scale(1 1.03)" fill="#000">ACC</text>
<rect x="2047.48" y="3330.85" width="64.01" height="29.7" rx="1.5" fill="#8099F0" stroke="#000" stroke-width="3.3"/>
<text transform="translate(2079.88 3353.7) scale(1 1.03)" fill="#000">ACG</text>
<rect x="2147.82" y="3198.25" width="64.01" height="29.7" rx="1.5" fill="#C6DBEF" stroke="#000" stroke-width="3.3"/>
<text transform="translate(2180.22 3221.1) scale(1 1.03)" fill="#000">UGA</text>
<rect x="2146.49" y="3242.55" width="66.67" height="29.7" rx="1.5" fill="#D2DE98" stroke="#000" stroke-width="3.3"/>
<text transform="translate(2180.22 3265.4) scale(1 1.03)" fill="#000">UGG</text>
<rect x="2248.82" y="3198.25" width="62.67" height="29.7" rx="1.5" fill="#C6DBEF" stroke="#000" stroke-width="3.3"/>
<text transform="translate(2280.56 3221.1) scale(1 1.03)" fill="#000">UAU</text>
<rect x="2248.82" y="3242.55" width="62.67" height="29.7" rx="1.5" fill="#D2DE98" stroke="#000" stroke-width="3.3"/>
<text transform="translate(2280.56 3265.4) scale(1 1.03)" fill="#000">UAC</text>
<rect x="2347.83" y="3198.25" width="65.33" height="29.7" rx="1.5" fill="#C6DBEF" stroke="#000" stroke-width="3.3"/>
<text transform="translate(2380.9 3221.1) scale(1 1.03)" fill="#000">GUU</text>
<rect x="2348.5" y="3242.55" width="64.01" height="29.7" rx="1.5" fill="#D2DE98" stroke="#000" stroke-width="3.3"/>
<text transform="translate(2380.9 3265.4) scale(1 1.03)" fill="#000">GUA</text>
<rect x="2347.83" y="3286.25" width="65.33" height="29.7" rx="1.5" fill="#FDD876" stroke="#000" stroke-width="3.3"/>
<text transform="translate(2380.9 3309.1) scale(1 1.03)" fill="#000">GUC</text>
<rect x="2347.17" y="3330.85" width="66.67" height="29.7" rx="1.5" fill="#8099F0" stroke="#000" stroke-width="3.3"/>
<text transform="translate(2380.9 3353.7) scale(1 1.03)" fill="#000">GUG</text>
</g>
</g>
</svg>
</body>
</html>
